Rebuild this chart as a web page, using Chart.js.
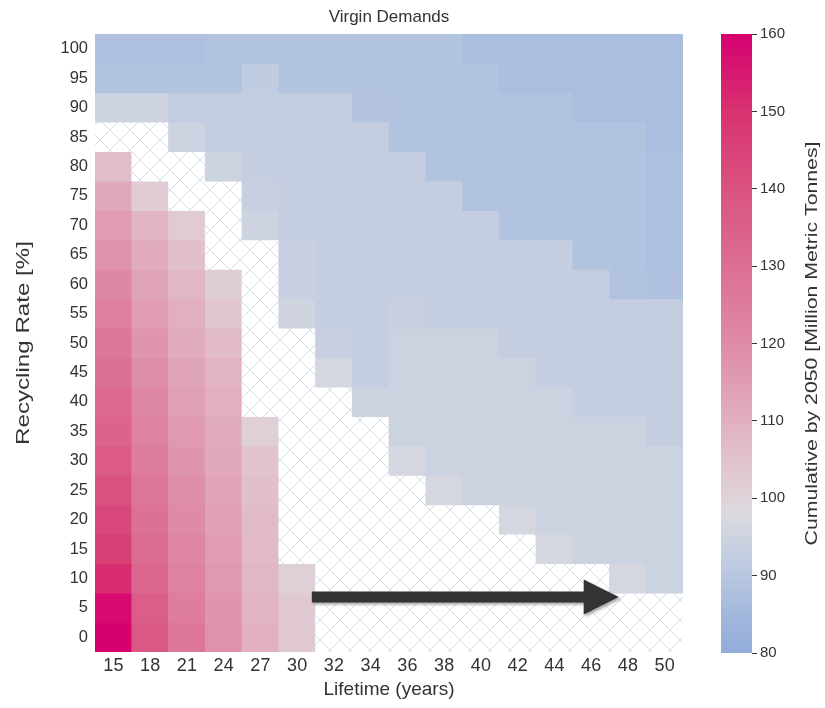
<!DOCTYPE html>
<html>
<head>
<meta charset="utf-8">
<title>Virgin Demands</title>
<script src="https://cdn.jsdelivr.net/npm/chart.js@4.4.1/dist/chart.umd.min.js"></script>
<style>
    html, body { margin: 0; padding: 0; background: #fff; }
    #wrap { position: relative; width: 825px; height: 708px; }
    #heatmap { position: absolute; left: 0; top: 0; width: 700px; height: 708px; }
    #colorbar { position: absolute; left: 700px; top: 0; width: 125px; height: 708px; }
</style>
</head>
<body>
<div id="wrap">
    <canvas id="heatmap" width="700" height="708"></canvas>
    <canvas id="colorbar" width="125" height="708"></canvas>
</div>
<script>
// product lifetime (x) and recycling rate (y, top row first)
var lifetimes = ['15', '18', '21', '24', '27', '30', '32', '34', '36', '38', '40', '42', '44', '46', '48', '50'];
var rates = [100, 95, 90, 85, 80, 75, 70, 65, 60, 55, 50, 45, 40, 35, 30, 25, 20, 15, 10, 5, 0];

// cumulative virgin demand by 2050 [Mt], one row per recycling rate, null = infeasible
var demand = [
    [88, 88, 88, 88.5, 88.5, 88.5, 88.5, 88.5, 88.5, 88.5, 87, 87, 87, 87, 87, 87],
    [88.5, 88.5, 88.5, 88.5, 92, 88.5, 88.5, 88.5, 88.5, 88.5, 88.5, 87, 87, 87, 87, 87],
    [95, 95, 92.5, 92.5, 92.5, 92.5, 92.5, 89, 88.5, 88.5, 88.5, 88.5, 88.5, 87, 87, 87],
    [null, null, 95, 93, 93, 93, 93, 93, 88.5, 88.5, 88.5, 88.5, 88.5, 88.5, 88.5, 87],
    [106.5, null, null, 94.5, 93, 93, 93, 93, 93, 88.5, 88.5, 88.5, 88.5, 88.5, 88.5, 87.5],
    [112, 102, null, null, 93.5, 93, 93, 93, 93, 93, 88.5, 88.5, 88.5, 88.5, 88.5, 87.5],
    [115, 108.5, 102.5, null, 95, 93, 93, 93, 93, 93, 93, 88.5, 88.5, 88.5, 88.5, 87.5],
    [118, 111, 106, null, null, 93.5, 93, 93, 93, 93, 93, 93, 93, 88.5, 88.5, 87.5],
    [121, 113, 108, 101.5, null, 93.5, 93, 93, 93, 93, 93, 93, 93, 93, 88.5, 88],
    [124, 115, 110, 104, null, 95.5, 93, 93, 93.5, 93, 93, 93, 93, 93, 93, 93],
    [127, 117, 111, 107, null, null, 93.5, 93, 94.5, 94.5, 94.5, 93, 93, 93, 93, 93],
    [129, 119, 113, 109, null, null, 96.5, 93, 94.5, 94.5, 94.5, 94.5, 93, 93, 93, 93],
    [132, 121, 114, 110, null, null, null, 94.5, 94.5, 94.5, 94.5, 94.5, 94.5, 93, 93, 93],
    [134, 123, 116, 111, 101, null, null, null, 94.5, 94.5, 94.5, 94.5, 94.5, 94.5, 94.5, 93],
    [137, 125, 117, 112, 105, null, null, null, 96.5, 94.5, 94.5, 94.5, 94.5, 94.5, 94.5, 94.5],
    [140, 127, 119, 113, 106, null, null, null, null, 96.5, 94.5, 94.5, 94.5, 94.5, 94.5, 94.5],
    [143, 129, 120, 114, 107, null, null, null, null, null, null, 96.5, 94.5, 94.5, 94.5, 94.5],
    [146, 131, 122, 115, 107.5, null, null, null, null, null, null, null, 96.5, 94.5, 94.5, 94.5],
    [151, 133, 123, 116, 108, 101, null, null, null, null, null, null, null, null, 96.5, 94.5],
    [158, 136, 125, 117, 109, 103, null, null, null, null, null, null, null, null, null, null],
    [161, 138, 127, 118, 110, 103, null, null, null, null, null, null, null, null, null, null]
];

var colorbarTicks = [80, 90, 100, 110, 120, 130, 140, 150, 160];

// diverging blue -> light grey -> magenta palette
var cmapValues = [80, 85, 90, 95, 98, 100, 105, 110, 115, 120, 130, 140, 150, 160];
var cmapColors = [
    [146, 171, 217], [163, 184, 221], [184, 199, 225], [205, 211, 224], [218, 217, 223],
    [223, 210, 217], [225, 195, 207], [225, 175, 193], [224, 156, 180], [223, 139, 168],
    [220, 110, 148], [218, 82, 129], [216, 50, 112], [214, 0, 112]
];

var FONT = '"Liberation Sans", Arial, Helvetica, sans-serif';
var TEXT = '#333333';

function rgb(c) {
    return 'rgb(' + Math.round(c[0]) + ',' + Math.round(c[1]) + ',' + Math.round(c[2]) + ')';
}

function colorFor(v) {
    var n = cmapValues.length;
    if (v <= cmapValues[0]) return rgb(cmapColors[0]);
    if (v >= cmapValues[n - 1]) return rgb(cmapColors[n - 1]);
    for (var i = 1; i < n; i++) {
        if (v <= cmapValues[i]) {
            var t = (v - cmapValues[i - 1]) / (cmapValues[i] - cmapValues[i - 1]);
            var a = cmapColors[i - 1], b = cmapColors[i];
            return rgb([a[0] + (b[0] - a[0]) * t, a[1] + (b[1] - a[1]) * t, a[2] + (b[2] - a[2]) * t]);
        }
    }
}

// cross hatch for infeasible cells
function makeHatch(ctx) {
    var s = 20;
    var tile = document.createElement('canvas');
    tile.width = s;
    tile.height = s;
    var t = tile.getContext('2d');
    t.fillStyle = '#ffffff';
    t.fillRect(0, 0, s, s);
    t.strokeStyle = '#d2dfea';
    t.lineWidth = 1;
    t.beginPath();
    t.moveTo(-1, -1); t.lineTo(s + 1, s + 1);
    t.moveTo(s + 1, -1); t.lineTo(-1, s + 1);
    t.stroke();
    return ctx.createPattern(tile, 'repeat');
}

// rotated axis caption, stretched along its length
function drawVerticalText(ctx, text, x, y, size, stretch) {
    ctx.save();
    ctx.translate(x, y);
    ctx.rotate(-Math.PI / 2);
    ctx.scale(stretch, 1);
    ctx.fillStyle = TEXT;
    ctx.font = size + 'px ' + FONT;
    ctx.textAlign = 'center';
    ctx.textBaseline = 'middle';
    ctx.fillText(text, 0, 0);
    ctx.restore();
}

var heatCanvas = document.getElementById('heatmap');
var hatch = makeHatch(heatCanvas.getContext('2d'));

// one floating-bar dataset per recycling rate row
var datasets = rates.map(function(rate, r) {
    return {
        label: rate + ' %',
        data: lifetimes.map(function() { return [rate - 2.5, rate + 2.5]; }),
        backgroundColor: demand[r].map(function(v) { return v === null ? hatch : colorFor(v); }),
        borderWidth: 0,
        barPercentage: 1,
        categoryPercentage: 1,
        grouped: false
    };
});

// arrow annotation along the feasibility edge
var arrowPlugin = {
    id: 'arrow',
    afterDatasetsDraw: function(chart) {
        var ctx = chart.ctx;
        var x0 = chart.scales.x.getPixelForValue(5.4);
        var x1 = chart.scales.x.getPixelForValue(13.75);
        var yy = chart.scales.y.getPixelForValue(6.85);
        var head = 35, half = 17.5, shaft = 5.5;
        ctx.save();
        ctx.shadowColor = 'rgba(0, 0, 0, 0.35)';
        ctx.shadowOffsetX = 2;
        ctx.shadowOffsetY = 2;
        ctx.shadowBlur = 3;
        ctx.fillStyle = '#333333';
        ctx.beginPath();
        ctx.moveTo(x0, yy - shaft);
        ctx.lineTo(x1 - head, yy - shaft);
        ctx.lineTo(x1 - head, yy - half);
        ctx.lineTo(x1, yy);
        ctx.lineTo(x1 - head, yy + half);
        ctx.lineTo(x1 - head, yy + shaft);
        ctx.lineTo(x0, yy + shaft);
        ctx.closePath();
        ctx.fill();
        ctx.restore();
    }
};

var yTitlePlugin = {
    id: 'yTitle',
    afterDraw: function(chart) {
        var area = chart.chartArea;
        drawVerticalText(chart.ctx, 'Recycling Rate [%]', 24, (area.top + area.bottom) / 2, 19, 1.27);
    }
};

new Chart(heatCanvas, {
    type: 'bar',
    data: { labels: lifetimes, datasets: datasets },
    options: {
        responsive: false,
        animation: false,
        layout: { padding: { left: 0, right: 17, top: 0, bottom: 0 } },
        plugins: {
            legend: { display: false },
            tooltip: { enabled: false },
            title: {
                display: true,
                text: 'Virgin Demands',
                fullSize: false,
                color: TEXT,
                font: { family: FONT, size: 17, weight: 'normal' },
                padding: { top: 7, bottom: 6.6 }
            }
        },
        scales: {
            x: {
                type: 'category',
                offset: true,
                afterFit: function(scale) { scale.height = 56; },
                grid: { display: false, drawTicks: false },
                border: { display: false },
                ticks: {
                    color: TEXT,
                    font: { family: FONT, size: 18 },
                    padding: 3,
                    maxRotation: 0,
                    autoSkip: false
                },
                title: {
                    display: true,
                    text: 'Lifetime (years)',
                    color: TEXT,
                    font: { family: FONT, size: 19 },
                    padding: { top: 0, bottom: 6.6 }
                }
            },
            y: {
                type: 'linear',
                min: -2.5,
                max: 102.5,
                afterBuildTicks: function(scale) {
                    scale.ticks = rates.map(function(v) { return { value: v }; });
                },
                afterFit: function(scale) { scale.width = 95; },
                grid: { display: false, drawTicks: false },
                border: { display: false },
                ticks: {
                    color: TEXT,
                    font: { family: FONT, size: 16.5 },
                    padding: 7
                }
            }
        }
    },
    plugins: [arrowPlugin, yTitlePlugin]
});

// colour bar: one floating bar filled with the palette gradient
var cbMin = 80, cbMax = 160;

var colorbarLabel = {
    id: 'colorbarLabel',
    afterDraw: function(chart) {
        var area = chart.chartArea;
        drawVerticalText(chart.ctx, 'Cumulative by 2050 [Million Metric Tonnes]', 112, (area.top + area.bottom) / 2, 17, 1.25);
    }
};

new Chart(document.getElementById('colorbar'), {
    type: 'bar',
    data: {
        labels: [''],
        datasets: [{
            data: [[cbMin, cbMax]],
            backgroundColor: function(c) {
                var chart = c.chart;
                if (!chart.chartArea) return null;
                var y = chart.scales.y;
                var g = chart.ctx.createLinearGradient(0, y.getPixelForValue(cbMin), 0, y.getPixelForValue(cbMax));
                cmapValues.forEach(function(v, i) {
                    g.addColorStop((v - cbMin) / (cbMax - cbMin), rgb(cmapColors[i]));
                });
                return g;
            },
            borderWidth: 0,
            barPercentage: 1,
            categoryPercentage: 1
        }]
    },
    options: {
        responsive: false,
        animation: false,
        layout: { padding: { left: 21, right: 0, top: 34, bottom: 55 } },
        plugins: {
            legend: { display: false },
            tooltip: { enabled: false }
        },
        scales: {
            x: { display: false },
            y: {
                position: 'right',
                min: cbMin,
                max: cbMax,
                afterBuildTicks: function(scale) {
                    scale.ticks = colorbarTicks.map(function(v) { return { value: v }; });
                },
                afterFit: function(scale) { scale.width = 73; },
                grid: { drawOnChartArea: false, drawTicks: true, tickLength: 5, color: TEXT, lineWidth: 1 },
                border: { display: false },
                ticks: {
                    color: TEXT,
                    font: { family: FONT, size: 15 },
                    padding: 3
                }
            }
        }
    },
    plugins: [colorbarLabel]
});
</script>
</body>
</html>
